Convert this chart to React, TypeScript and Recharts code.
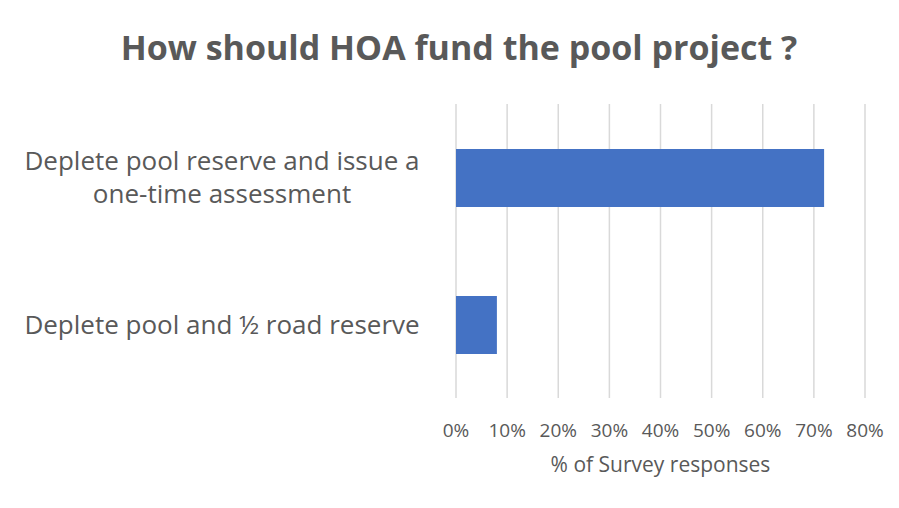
import React from 'react';
import { Bar, BarChart, CartesianGrid, XAxis, YAxis } from 'recharts';

const categories = [
  'Deplete pool reserve and issue a one-time assessment',
  'Deplete pool and ½ road reserve',
];
const responses = [72, 8];
const xTicks = [0, 10, 20, 30, 40, 50, 60, 70, 80];

const textColor = '#595959';
const font = '"Open Sans", sans-serif';

function wrap(text: string, max: number) {
  const words = text.split(' ');
  const lines: string[] = [];
  let cur = '';
  words.forEach((w) => {
    const next = cur ? cur + ' ' + w : w;
    if (next.length > max && cur) {
      lines.push(cur);
      cur = w;
    } else {
      cur = next;
    }
  });
  if (cur) lines.push(cur);
  return lines;
}

function CategoryTick(props: any) {
  const { x, y, payload } = props;
  const lines = wrap(payload.value, 32);
  const lh = 33;
  const start = y - ((lines.length - 1) * lh) / 2;
  return (
    <g>
      {lines.map((l, i) => (
        <text
          key={i}
          x={x - 234}
          y={start + i * lh}
          dy="0.35em"
          textAnchor="middle"
          fill={textColor}
          fontSize={26}
          fontFamily={font}
        >
          {l}
        </text>
      ))}
    </g>
  );
}

function App() {
  const data = categories.map((name, i) => ({ name, value: responses[i] }));

  return (
    <div style={{ position: 'absolute', left: 0, top: 0, width: 899, height: 508, background: '#fff' }}>
      <div
        style={{
          position: 'absolute',
          left: 0,
          top: 24,
          width: 918,
          textAlign: 'center',
          fontFamily: font,
          fontWeight: 700,
          fontSize: 34,
          color: textColor,
        }}
      >
        How should HOA fund the pool project ?
      </div>
      <BarChart
        width={899}
        height={508}
        data={data}
        layout="vertical"
        margin={{ top: 104, right: 34, left: 0, bottom: 30 }}
      >
        <CartesianGrid horizontal={false} stroke="#d9d9d9" strokeWidth={1.5} />
        <XAxis
          type="number"
          domain={[0, 80]}
          ticks={xTicks}
          tickFormatter={(v) => `${v}%`}
          axisLine={false}
          tickLine={false}
          tickSize={0}
          tickMargin={26}
          height={80}
          interval={0}
          tick={{ fill: textColor, fontSize: 19, fontFamily: font }}
          label={{
            value: '% of Survey responses',
            position: 'insideBottom',
            offset: 6,
            fill: textColor,
            fontSize: 21,
            fontFamily: font,
          }}
        />
        <YAxis
          type="category"
          dataKey="name"
          width={456}
          axisLine={false}
          tickLine={false}
          tickSize={0}
          tickMargin={0}
          tick={<CategoryTick />}
        />
        <Bar dataKey="value" fill="#4472c4" barSize={58} isAnimationActive={false} />
      </BarChart>
    </div>
  );
}

export default App;
